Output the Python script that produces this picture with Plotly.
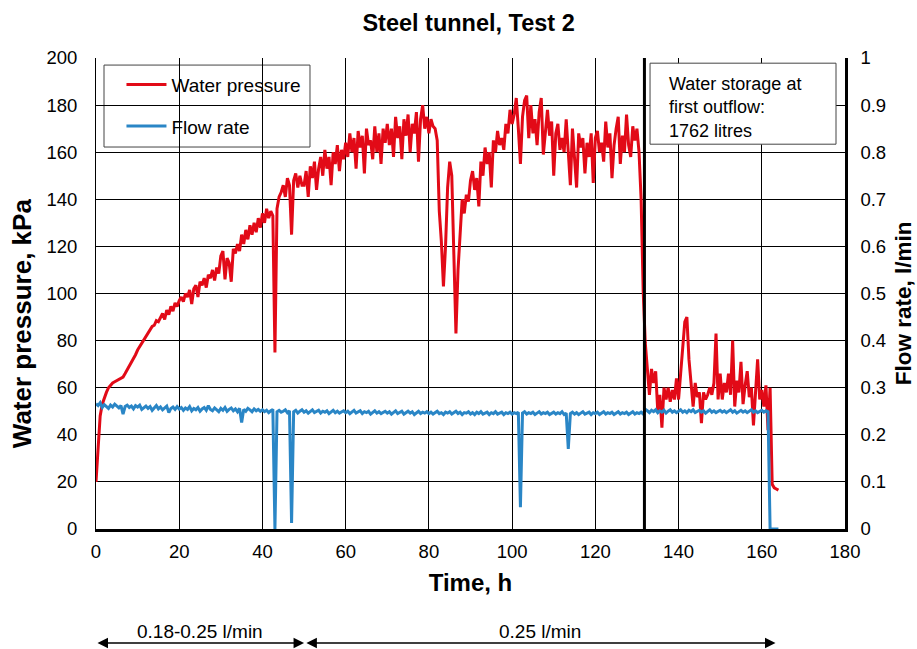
import numpy as np
import plotly.graph_objects as go

# Sampling times (h), every half hour from 0 to 164 h
hours = np.arange(0, 164.01, 0.5)

# Water pressure (kPa), one row per 10 h
p000 = [20, 36, 48, 53, 56, 58, 60, 61, 62, 62.5, 63, 63.5, 64, 64.5, 66, 67.5, 69, 71, 72.5, 74]
p010 = [76, 77.5, 78.5, 80.5, 81.5, 83, 84.5, 86, 86.5, 88.5, 88, 90, 91.5, 89, 93, 91, 94.5, 92.5, 96, 94.5]
p020 = [97, 98.5, 96.5, 100, 98.5, 101.5, 95.5, 102, 103.5, 98.5, 105, 103.5, 106.5, 102.5, 108, 106.5, 110, 105.5, 111, 108.5]
p030 = [116, 118, 106, 115, 113, 105, 119, 117, 121, 118, 125, 121, 127, 123, 129, 125, 130, 126, 132, 128]
p040 = [134, 130, 136, 132, 135, 133, 75, 136, 141, 143, 146, 141, 149, 146, 125, 148, 151, 145, 150, 146]
p050 = [146, 152, 141, 154, 149, 156, 144, 153, 158, 150, 161, 153, 158, 146, 160, 155, 163, 152, 161, 157]
p060 = [164, 158, 168, 160, 166, 153, 169, 162, 167, 151, 170, 163, 165, 157, 171, 160, 168, 155, 170, 164]
p070 = [172, 163, 170, 158, 175, 166, 171, 157, 174, 167, 176, 160, 172, 168, 177, 156, 174, 180, 170, 175]
p080 = [168, 174, 171, 170, 165, 135, 122, 103, 120, 145, 156, 150, 118, 83, 110, 126, 140, 134, 142, 139]
p090 = [148, 152, 144, 149, 137, 156, 150, 162, 155, 160, 145, 165, 160, 169, 163, 166, 161, 172, 168, 178]
p100 = [172, 176, 183, 170, 155, 175, 182, 184, 166, 180, 168, 174, 163, 177, 183, 159, 170, 178, 167, 173]
p110 = [150, 168, 172, 161, 166, 160, 174, 162, 146, 170, 158, 145, 168, 162, 166, 151, 164, 158, 168, 147]
p120 = [166, 169, 160, 164, 156, 173, 162, 168, 149, 163, 170, 175, 155, 167, 160, 176, 163, 158, 171, 165]
p130 = [170, 160, 140, 101, 79, 66, 57, 68, 62, 67, 50, 57, 43, 60, 55, 60, 54, 59, 55, 64]
p140 = [55, 66, 76, 88, 90, 72, 62, 52, 62, 56, 58, 45, 58, 55, 57, 60, 57, 62, 83, 55]
p150 = [66, 55, 62, 58, 66, 57, 80, 52, 63, 58, 71, 53, 61, 67, 56, 60, 44, 59, 72, 55]
p160 = [59, 52, 61, 42, 60, 19, 17.5, 17, 16.5]

# Flow rate (l/min), one row per 10 h
f000 = [.266, .262, .268, .258, .264, .260, .256, .263, .259, .265, .261, .257, .262, .244, .260, .263, .258, .261, .255, .262]
f010 = [.259, .263, .254, .258, .261, .256, .260, .252, .257, .262, .255, .259, .253, .258, .261, .247, .256, .259, .254, .260]
f020 = [.255, .258, .252, .257, .254, .260, .251, .256, .253, .258, .250, .255, .258, .252, .262, .254, .251, .257, .253, .249]
f030 = [.256, .252, .258, .250, .254, .257, .251, .255, .249, .256, .226, .254, .250, .256, .253, .249, .255, .251, .254, .250]
f040 = [.253, .249, .252, .247, .251, .254, 0.0, .249, .252, .248, .250, .253, .247, .251, .013, .249, .252, .246, .250, .253]
f050 = [.248, .251, .246, .250, .253, .247, .249, .252, .246, .250, .248, .251, .245, .249, .252, .247, .250, .246, .249, .251]
f060 = [.247, .250, .245, .249, .252, .246, .248, .251, .245, .249, .247, .250, .244, .248, .251, .246, .249, .245, .248, .250]
f070 = [.246, .249, .244, .248, .251, .245, .248, .250, .244, .247, .250, .246, .249, .243, .247, .250, .245, .248, .246, .249]
f080 = [.245, .248, .244, .247, .250, .245, .247, .243, .248, .246, .249, .244, .247, .250, .245, .248, .243, .247, .246, .249]
f090 = [.244, .247, .243, .248, .245, .249, .244, .246, .248, .243, .247, .245, .249, .244, .246, .248, .243, .247, .245, .248]
f100 = [.244, .247, .245, .248, .046, .246, .249, .244, .247, .245, .248, .243, .246, .249, .244, .247, .245, .248, .243, .246]
f110 = [.248, .244, .247, .245, .249, .243, .246, .170, .245, .248, .244, .247, .243, .246, .249, .244, .246, .248, .243, .247]
f120 = [.245, .248, .243, .246, .249, .244, .247, .245, .248, .243, .246, .249, .244, .247, .245, .248, .243, .246, .249, .244]
f130 = [.247, .245, .248, .244, .254, .251, .247, .252, .249, .253, .247, .251, .248, .252, .246, .250, .253, .248, .251, .247]
f140 = [.250, .253, .248, .251, .247, .252, .249, .253, .247, .250, .252, .248, .251, .246, .250, .253, .248, .251, .247, .250]
f150 = [.252, .248, .251, .247, .250, .253, .248, .251, .246, .250, .252, .248, .251, .247, .250, .253, .248, .251, .247, .250]
f160 = [.252, .248, .251, .249, 0, 0, 0, 0, 0]

pressure = (p000 + p010 + p020 + p030 + p040 + p050 + p060 + p070 + p080
            + p090 + p100 + p110 + p120 + p130 + p140 + p150 + p160)
flow = (f000 + f010 + f020 + f030 + f040 + f050 + f060 + f070 + f080
        + f090 + f100 + f110 + f120 + f130 + f140 + f150 + f160)
assert len(pressure) == len(hours) == len(flow)

first_outflow_h = 131.8
x_ticks = [0, 20, 40, 60, 80, 100, 120, 140, 160, 180]
p_ticks = [0, 20, 40, 60, 80, 100, 120, 140, 160, 180, 200]
f_ticks = [0, 0.1, 0.2, 0.3, 0.4, 0.5, 0.6, 0.7, 0.8, 0.9, 1]
f_labels = ["0", "0.1", "0.2", "0.3", "0.4", "0.5", "0.6", "0.7", "0.8", "0.9", "1"]

# Flow-rate phases shown under the chart
phases = [(0, 50, "0.18-0.25 l/min"), (50.2, 163.3, "0.25 l/min")]

FONT = "Liberation Sans, Arial, sans-serif"
RED = "#E20A17"
BLUE = "#2A86C6"
TICK = 18.5

fig = go.Figure()
fig.add_trace(go.Scatter(x=hours, y=pressure, name="Water pressure", mode="lines",
                         line=dict(color=RED, width=3), legendgroup="p"))
fig.add_trace(go.Scatter(x=hours, y=flow, name="Flow rate", mode="lines", yaxis="y2",
                         line=dict(color=BLUE, width=3), legendgroup="f"))

fig.update_layout(
    width=917, height=649,
    margin=dict(l=96, r=72, t=58, b=120),
    paper_bgcolor="white", plot_bgcolor="white",
    font=dict(family=FONT, size=TICK, color="black"),
    title=dict(text="<b>Steel tunnel, Test 2</b>", x=0.511, xanchor="center",
               y=0.965, yanchor="middle", font=dict(size=23.5)),
    showlegend=True,
    legend=dict(x=0.034, y=0.984, xanchor="left", yanchor="top",
                bgcolor="rgba(0,0,0,0)", borderwidth=0,
                font=dict(size=19), tracegroupgap=14, itemwidth=40),
    xaxis=dict(range=[0, 180], tickvals=x_ticks, showgrid=True, gridcolor="black",
               gridwidth=1, zeroline=False, showline=True, linecolor="black", linewidth=2.5,
               ticks="", tickfont=dict(size=TICK), ticklabelstandoff=4, automargin=False,
               title=dict(text="<b>Time, h</b>", font=dict(size=24), standoff=14)),
    yaxis=dict(range=[0, 200], tickvals=p_ticks, showgrid=True, gridcolor="black",
               gridwidth=1, zeroline=False, showline=True, linecolor="black", linewidth=1,
               ticks="", tickfont=dict(size=TICK), ticklabelstandoff=14, automargin=False),
    yaxis2=dict(range=[0, 1], tickvals=f_ticks, ticktext=f_labels, overlaying="y",
                side="right", showgrid=False, zeroline=False, showline=True,
                linecolor="black", linewidth=2.5, ticks="", tickfont=dict(size=TICK),
                ticklabelstandoff=9, automargin=False),
)

shapes = [
    # legend frame
    dict(type="rect", xref="paper", yref="paper", x0=0.0107, x1=0.2857, y0=0.811, y1=0.985,
         line=dict(color="#444", width=1), fillcolor="white", layer="below"),
    # note frame
    dict(type="rect", xref="paper", yref="paper", x0=0.7397, x1=0.988, y0=0.817, y1=0.989,
         line=dict(color="#444", width=1), fillcolor="white", layer="above"),
    # first outflow marker
    dict(type="line", xref="x", yref="paper", x0=first_outflow_h, x1=first_outflow_h,
         y0=0, y1=1, line=dict(color="black", width=3)),
]
fig.update_layout(shapes=shapes)

annotations = [
    dict(xref="paper", yref="paper", x=0.763, y=0.97, xanchor="left", yanchor="top",
         text="Water storage at<br>first outflow:<br>1762 litres", showarrow=False,
         align="left", font=dict(size=18)),
    # vertical axis titles
    dict(xref="paper", yref="paper", x=-0.0995, y=0.438, xanchor="center", yanchor="middle",
         text="<b>Water pressure, kPa</b>", textangle=-90, showarrow=False,
         font=dict(size=26)),
    dict(xref="paper", yref="paper", x=1.0774, y=0.479, xanchor="center", yanchor="middle",
         text="<b>Flow rate, l/min</b>", textangle=-90, showarrow=False,
         font=dict(size=22.5)),
]
for start, end, label in phases:
    annotations.append(dict(xref="x", yref="paper", x=end, y=-0.242, axref="x", ayref="pixel",
                            ax=start, ay=0, showarrow=True, arrowside="end+start",
                            arrowhead=2, arrowsize=1.4, arrowwidth=1.5, arrowcolor="black",
                            text=""))
    annotations.append(dict(xref="x", yref="paper", x=(start + end) / 2, y=-0.2166,
                            xanchor="center", yanchor="middle",
                            text=label, showarrow=False, font=dict(size=19)))
fig.update_layout(annotations=annotations)

fig.write_html("out.html")
